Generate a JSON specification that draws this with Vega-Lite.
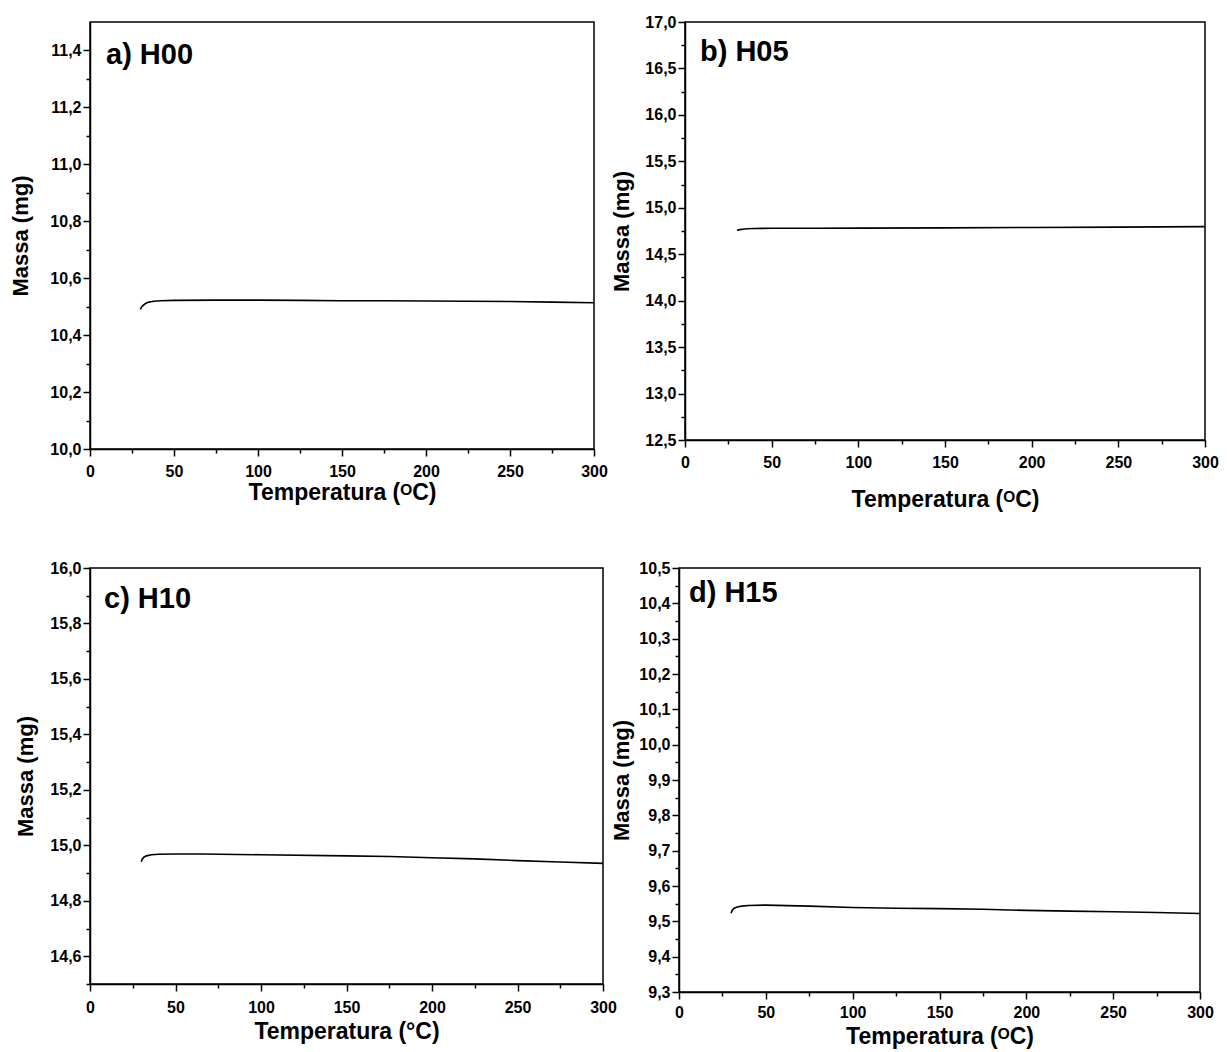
{
  "$schema": "https://vega.github.io/schema/vega-lite/v6.json",
  "background": "white",
  "padding": {"left": 9, "top": 13, "right": 5, "bottom": 3},
  "columns": 2,
  "align": "none",
  "spacing": {"row": 47, "column": -8},
  "datasets": {
    "h00": [
      {"T": 30, "m": 10.490}, {"T": 30.5, "m": 10.497}, {"T": 31.5, "m": 10.504}, {"T": 33, "m": 10.511},
      {"T": 35, "m": 10.516}, {"T": 38, "m": 10.519}, {"T": 42, "m": 10.521}, {"T": 50, "m": 10.522},
      {"T": 75, "m": 10.523}, {"T": 100, "m": 10.523}, {"T": 125, "m": 10.522}, {"T": 150, "m": 10.521},
      {"T": 175, "m": 10.521}, {"T": 200, "m": 10.520}, {"T": 225, "m": 10.519}, {"T": 250, "m": 10.518},
      {"T": 275, "m": 10.516}, {"T": 300, "m": 10.514}
    ],
    "h05": [
      {"T": 30, "m": 14.757}, {"T": 31, "m": 14.762}, {"T": 33, "m": 14.768}, {"T": 36, "m": 14.774},
      {"T": 40, "m": 14.777}, {"T": 50, "m": 14.779}, {"T": 75, "m": 14.780}, {"T": 100, "m": 14.781},
      {"T": 150, "m": 14.784}, {"T": 200, "m": 14.788}, {"T": 250, "m": 14.792}, {"T": 300, "m": 14.797}
    ],
    "h10": [
      {"T": 30, "m": 14.941}, {"T": 30.5, "m": 14.950}, {"T": 31.5, "m": 14.957}, {"T": 33, "m": 14.962},
      {"T": 36, "m": 14.966}, {"T": 40, "m": 14.968}, {"T": 50, "m": 14.969}, {"T": 65, "m": 14.969},
      {"T": 100, "m": 14.966}, {"T": 150, "m": 14.962}, {"T": 175, "m": 14.960}, {"T": 200, "m": 14.955},
      {"T": 225, "m": 14.951}, {"T": 250, "m": 14.945}, {"T": 275, "m": 14.940}, {"T": 300, "m": 14.935}
    ],
    "h15": [
      {"T": 30, "m": 9.523}, {"T": 30.5, "m": 9.530}, {"T": 31.5, "m": 9.536}, {"T": 33, "m": 9.540},
      {"T": 36, "m": 9.543}, {"T": 40, "m": 9.545}, {"T": 50, "m": 9.546}, {"T": 75, "m": 9.543},
      {"T": 100, "m": 9.539}, {"T": 125, "m": 9.537}, {"T": 150, "m": 9.536}, {"T": 175, "m": 9.534},
      {"T": 200, "m": 9.531}, {"T": 225, "m": 9.529}, {"T": 250, "m": 9.527}, {"T": 275, "m": 9.525},
      {"T": 300, "m": 9.522}
    ]
  },
  "concat": [
    {
      "width": 504, "height": 427,
      "title": {"text": "a) H00", "anchor": "start", "frame": "group", "orient": "top", "offset": -79, "dx": 16, "baseline": "alphabetic", "fontSize": 29, "fontWeight": "bold", "font": "Liberation Sans", "color": "black"},
      "data": {"name": "h00"},
      "mark": {"type": "line", "color": "black", "strokeWidth": 1.6},
      "encoding": {
        "x": {"field": "T", "type": "quantitative", "scale": {"domain": [0, 300], "nice": false},
          "axis": {"title": "Temperatura (ᴼC)", "values": [0, 25, 50, 75, 100, 125, 150, 175, 200, 225, 250, 275, 300],
            "labelExpr": "datum.value % 50 == 0 ? datum.label : ''",
            "tickSize": {"condition": {"test": "datum.value % 50 == 0", "value": 7}, "value": 4},
            "labelPadding": 7, "titlePadding": 2}},
        "y": {"field": "m", "type": "quantitative", "scale": {"domain": [10, 11.5], "nice": false, "zero": false},
          "axis": {"title": "Massa (mg)", "values": [10.0, 10.1, 10.2, 10.3, 10.4, 10.5, 10.6, 10.7, 10.8, 10.9, 11.0, 11.1, 11.2, 11.3, 11.4, 11.5],
            "labelExpr": "round(datum.value*10) % 2 == 0 || datum.value > 11.45 ? replace(format(datum.value, '.1f'), '.', ',') : ''",
            "labelOpacity": {"condition": {"test": "datum.value > 11.45", "value": 0}, "value": 1},
            "tickOpacity": {"condition": {"test": "datum.value > 11.45", "value": 0}, "value": 1},
            "tickSize": {"condition": {"test": "round(datum.value*10) % 2 == 0", "value": 7}, "value": 4},
            "titlePadding": 17}}
      }
    },
    {
      "width": 520, "height": 418,
      "title": {"text": "b) H05", "anchor": "start", "frame": "group", "orient": "top", "offset": -76, "dx": 15, "baseline": "alphabetic", "fontSize": 29, "fontWeight": "bold", "font": "Liberation Sans", "color": "black"},
      "data": {"name": "h05"},
      "mark": {"type": "line", "color": "black", "strokeWidth": 1.6},
      "encoding": {
        "x": {"field": "T", "type": "quantitative", "scale": {"domain": [0, 300], "nice": false},
          "axis": {"title": "Temperatura (ᴼC)", "values": [0, 25, 50, 75, 100, 125, 150, 175, 200, 225, 250, 275, 300],
            "labelExpr": "datum.value % 50 == 0 ? datum.label : ''",
            "tickSize": {"condition": {"test": "datum.value % 50 == 0", "value": 7}, "value": 4},
            "labelPadding": 7, "titlePadding": 18}},
        "y": {"field": "m", "type": "quantitative", "scale": {"domain": [12.5, 17], "nice": false, "zero": false},
          "axis": {"title": "Massa (mg)", "values": [12.5, 12.75, 13.0, 13.25, 13.5, 13.75, 14.0, 14.25, 14.5, 14.75, 15.0, 15.25, 15.5, 15.75, 16.0, 16.25, 16.5, 16.75, 17.0],
            "labelExpr": "round(datum.value*100) % 50 == 0 ? replace(format(datum.value, '.1f'), '.', ',') : ''",
            "tickSize": {"condition": {"test": "round(datum.value*100) % 50 == 0", "value": 7}, "value": 4},
            "titlePadding": 11}}
      }
    },
    {
      "width": 513, "height": 416,
      "title": {"text": "c) H10", "anchor": "start", "frame": "group", "orient": "top", "offset": -77, "dx": 14, "baseline": "alphabetic", "fontSize": 29, "fontWeight": "bold", "font": "Liberation Sans", "color": "black"},
      "data": {"name": "h10"},
      "mark": {"type": "line", "color": "black", "strokeWidth": 1.6},
      "encoding": {
        "x": {"field": "T", "type": "quantitative", "scale": {"domain": [0, 300], "nice": false},
          "axis": {"title": "Temperatura (°C)", "values": [0, 25, 50, 75, 100, 125, 150, 175, 200, 225, 250, 275, 300],
            "labelExpr": "datum.value % 50 == 0 ? datum.label : ''",
            "tickSize": {"condition": {"test": "datum.value % 50 == 0", "value": 7}, "value": 4},
            "labelPadding": 8, "titlePadding": 5}},
        "y": {"field": "m", "type": "quantitative", "scale": {"domain": [14.5, 16], "nice": false, "zero": false},
          "axis": {"title": "Massa (mg)", "values": [14.5, 14.6, 14.7, 14.8, 14.9, 15.0, 15.1, 15.2, 15.3, 15.4, 15.5, 15.6, 15.7, 15.8, 15.9, 16.0],
            "labelExpr": "round(datum.value*10) % 2 == 0 ? replace(format(datum.value, '.1f'), '.', ',') : ''",
            "tickSize": {"condition": {"test": "round(datum.value*10) % 2 == 0", "value": 7}, "value": 4},
            "titlePadding": 12}}
      }
    },
    {
      "width": 521, "height": 424,
      "title": {"text": "d) H15", "anchor": "start", "frame": "group", "orient": "top", "offset": -71, "dx": 10, "baseline": "alphabetic", "fontSize": 29, "fontWeight": "bold", "font": "Liberation Sans", "color": "black"},
      "data": {"name": "h15"},
      "mark": {"type": "line", "color": "black", "strokeWidth": 1.6},
      "encoding": {
        "x": {"field": "T", "type": "quantitative", "scale": {"domain": [0, 300], "nice": false},
          "axis": {"title": "Temperatura (ᴼC)", "values": [0, 25, 50, 75, 100, 125, 150, 175, 200, 225, 250, 275, 300],
            "labelExpr": "datum.value % 50 == 0 ? datum.label : ''",
            "tickSize": {"condition": {"test": "datum.value % 50 == 0", "value": 7}, "value": 4},
            "labelPadding": 5, "titlePadding": 5}},
        "y": {"field": "m", "type": "quantitative", "scale": {"domain": [9.3, 10.5], "nice": false, "zero": false},
          "axis": {"title": "Massa (mg)", "values": [9.3, 9.35, 9.4, 9.45, 9.5, 9.55, 9.6, 9.65, 9.7, 9.75, 9.8, 9.85, 9.9, 9.95, 10.0, 10.05, 10.1, 10.15, 10.2, 10.25, 10.3, 10.35, 10.4, 10.45, 10.5],
            "labelExpr": "round(datum.value*100) % 10 == 0 ? replace(format(datum.value, '.1f'), '.', ',') : ''",
            "tickSize": {"condition": {"test": "round(datum.value*100) % 10 == 0", "value": 7}, "value": 4},
            "titlePadding": 5}}
      }
    }
  ],
  "config": {
    "view": {"stroke": "black", "strokeWidth": 1.5},
    "title": {"font": "Liberation Sans"},
    "axis": {
      "grid": false,
      "domainColor": "black", "domainWidth": 1.5,
      "tickColor": "black", "tickWidth": 1.5,
      "labelFont": "Liberation Sans", "labelFontWeight": "bold", "labelFontSize": 16, "labelColor": "black",
      "labelOverlap": false, "labelBound": false, "labelFlush": false,
      "labelPadding": 2,
      "titleFont": "Liberation Sans", "titleFontWeight": "bold", "titleFontSize": 22, "titleColor": "black"
    },
    "axisX": {"titleFontSize": 23}
  }
}
